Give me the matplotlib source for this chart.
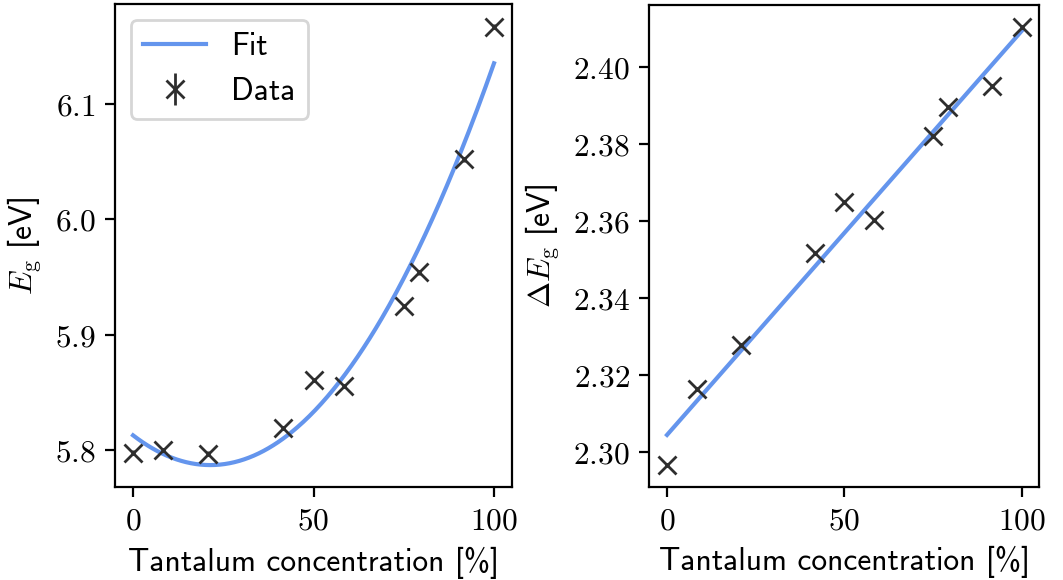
import numpy as np
import matplotlib
matplotlib.use("Agg")
import matplotlib.pyplot as plt
from matplotlib.ticker import FormatStrFormatter

plt.rcParams["font.family"] = ["cmss10", "DejaVu Sans"]
plt.rcParams["mathtext.fontset"] = "cm"
plt.rcParams["font.size"] = 11.3
plt.rcParams["axes.unicode_minus"] = False

# Tantalum concentration [%]
ta_conc = [0.0, 8.33, 20.83, 41.67, 50.0, 58.33, 75.0, 79.17, 91.67, 100.0]
# Band gap E_g [eV]
eg = [5.7977, 5.800, 5.797, 5.8193, 5.8606, 5.8557, 5.925, 5.954, 6.052, 6.167]
eg_err = [0.002] * len(ta_conc)
# Band gap difference Delta E_g [eV]
delta_eg = [2.2967, 2.3165, 2.3278, 2.3518, 2.365, 2.3603, 2.382, 2.3896, 2.395, 2.4104]
delta_eg_err = [0.0005] * len(ta_conc)

fit_color = "cornflowerblue"
data_color = "#2e2e2e"

fig = plt.figure(figsize=(1063 / 200, 580 / 200), dpi=200)
ax1 = fig.add_axes([0.1082, 0.1603, 0.3735, 0.8328])
ax2 = fig.add_axes([0.6108, 0.1609, 0.3669, 0.8310])

x_fit = np.linspace(0, 100, 300)

# Quadratic (bowing) fit of the band gap
c1 = np.polyfit(ta_conc, eg, 2)
ax1.plot(x_fit, np.polyval(c1, x_fit), color=fit_color, lw=1.5, label="Fit")
ax1.errorbar(ta_conc, eg, yerr=eg_err, fmt="x", color=data_color,
             ms=6.5, mew=1.0, elinewidth=1.0, label="Data")
ax1.set_xlim(-5, 105)
ax1.set_ylim(5.768, 6.1866)
ax1.set_xticks([0, 50, 100])
ax1.set_yticks([5.8, 5.9, 6.0, 6.1])
ax1.xaxis.set_major_formatter(FormatStrFormatter("$%d$"))
ax1.yaxis.set_major_formatter(FormatStrFormatter("$%.1f$"))
ax1.set_xlabel("Tantalum concentration [%]")
ax1.set_ylabel(r"$E_\mathrm{g}$ [eV]")
ax1.legend(loc="upper left")

# Linear fit of the band gap difference
c2 = np.polyfit(ta_conc, delta_eg, 1)
ax2.plot(x_fit, np.polyval(c2, x_fit), color=fit_color, lw=1.5, label="Fit")
ax2.errorbar(ta_conc, delta_eg, yerr=delta_eg_err, fmt="x", color=data_color,
             ms=6.5, mew=1.0, elinewidth=1.0, label="Data")
ax2.set_xlim(-5, 105)
ax2.set_ylim(2.2911, 2.4161)
ax2.set_xticks([0, 50, 100])
ax2.set_yticks([2.30, 2.32, 2.34, 2.36, 2.38, 2.40])
ax2.xaxis.set_major_formatter(FormatStrFormatter("$%d$"))
ax2.yaxis.set_major_formatter(FormatStrFormatter("$%.2f$"))
ax2.set_xlabel("Tantalum concentration [%]")
ax2.set_ylabel(r"$\Delta E_\mathrm{g}$ [eV]")

fig.savefig("out.png", dpi=200)
